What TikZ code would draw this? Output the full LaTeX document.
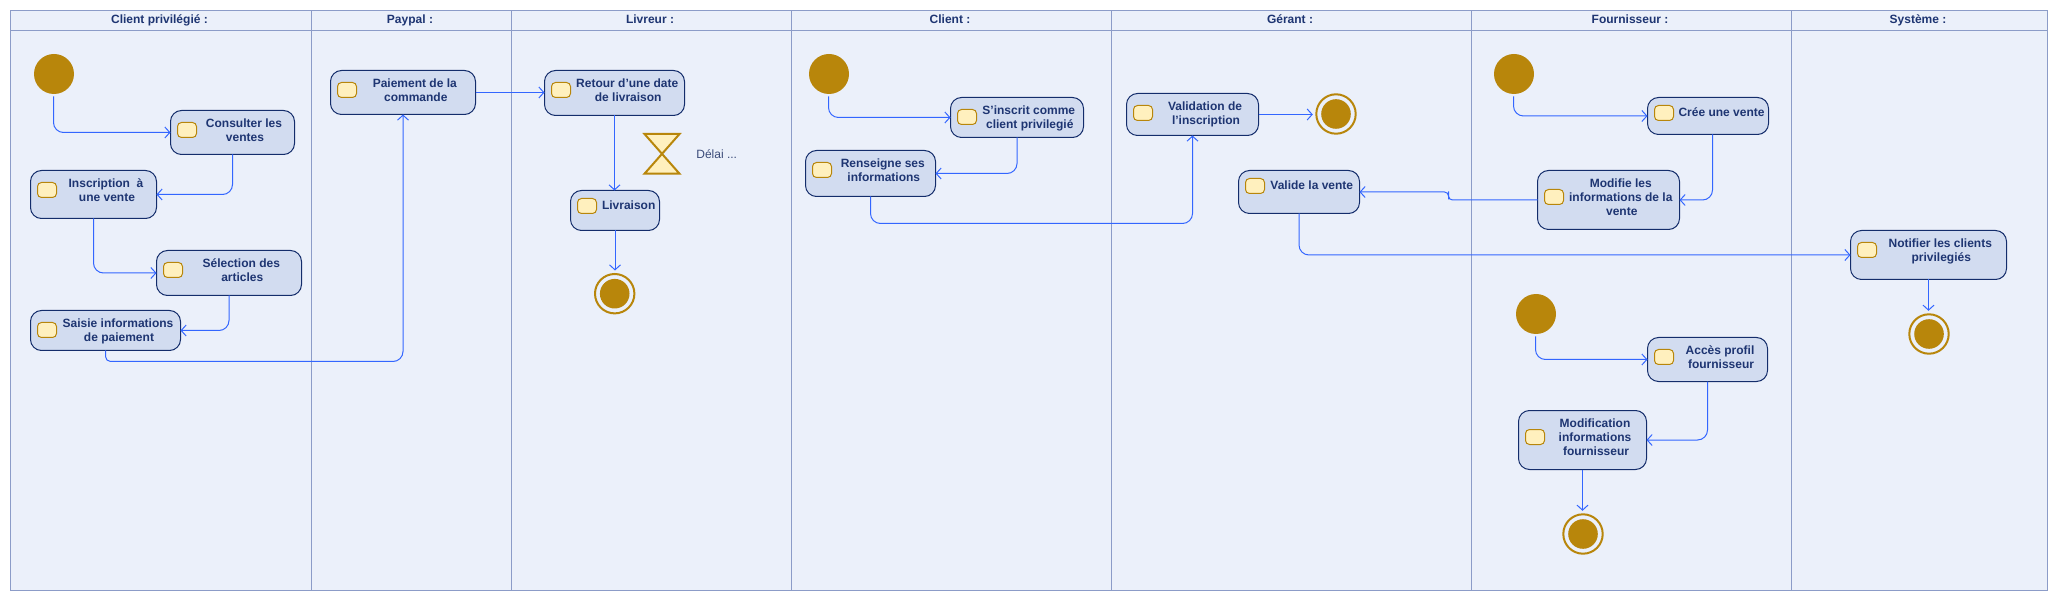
\documentclass[tikz,border=0pt]{standalone}
\usepackage{fontspec}
\setmainfont{Liberation Sans}
\usetikzlibrary{arrows.meta}
\definecolor{lane_fill}{HTML}{EBF0FA}
\definecolor{lane_line}{HTML}{8C9CC8}
\definecolor{act_fill}{HTML}{D2DCF0}
\definecolor{act_line}{HTML}{142D6B}
\definecolor{act_text}{HTML}{1E3572}
\definecolor{delay_text}{HTML}{3A4A78}
\definecolor{flow_blue}{HTML}{3366FF}
\definecolor{state_gold}{HTML}{B8860B}
\definecolor{icon_fill}{HTML}{FFF0BE}
\tikzset{
  every node/.style={outer sep=0pt, inner sep=0pt},
  lanebox/.style={draw=lane_line, fill=lane_fill, line width=1pt},
  lanerule/.style={draw=lane_line, line width=1pt},
  lanetitle/.style={anchor=base, text=act_text, font=\fontsize{12}{14}\selectfont\bfseries},
  actbox/.style={draw=act_line, fill=act_fill, line width=1pt, rounded corners=11pt},
  acttext/.style={anchor=base, text=act_text, align=center, font=\fontsize{12}{14}\selectfont\bfseries},
  acticon/.style={draw=state_gold, fill=icon_fill, line width=1pt, rounded corners=4pt, minimum width=19pt, minimum height=15pt},
  startdot/.style={circle, fill=state_gold, minimum size=40pt},
  endring/.style={circle, draw=state_gold, line width=2pt, minimum size=39.4pt},
  endcore/.style={circle, fill=state_gold, minimum size=29.6pt},
  flow/.style={draw=flow_blue, line width=1pt, rounded corners=10pt, -{Straight Barb[length=5pt,width=11pt]}},
  toend/.style={flow, shorten >=3.5pt}
}
% #1 name, #2-#5 box corners, #6 icon offset, #7,#8 text base, #9 text
\newcommand{\activity}[9]{
  \node[actbox, minimum width={#4-#2}, minimum height={#5-#3}] (#1) at ({(#2+#4)/2},{(#3+#5)/2}) {};
  \node[acticon] (#1-icon) at ({#2+16.5},{#3+#6+7.5}) {};
  \node[acttext] (#1-text) at (#7,#8) {#9};
}
\newcommand{\finalstate}[3]{
  \node[endring] (#1) at (#2,#3) {};
  \node[endcore] (#1-core) at (#1.center) {};
}
\newcommand{\gap}{\kern2pt}
\begin{document}
\begin{tikzpicture}[x=1pt, y=-1pt]
  \useasboundingbox (0,0) rectangle (2058,601);
  % lanes
  \path[lanebox] (10.5,10.5) rectangle (2047.5,590.5);
  \draw[lanerule] (10.5,30.5) -- (2047.5,30.5);
  \foreach \x in {311.5, 511.5, 791.5, 1111.5, 1471.5, 1791.5}
    \draw[lanerule] (\x,10.5) -- (\x,590.5);
  \foreach \x/\lanename/\lanelabel in {159.5/privilege/Client privilégié :, 410/paypal/Paypal :, 650/livreur/Livreur :, 950/client/Client :, 1290/gerant/Gérant :, 1630/fournisseur/Fournisseur :, 1918/systeme/Système :}
    \node[lanetitle] (\lanename) at (\x,24) {\lanelabel};

  % Client privilege
  \node[startdot] (startA) at (54,74) {};
  \activity{consulter}{170.5}{110.5}{294.5}{154.5}{12}{245}{141.5}{Consulter les\gap\\ventes}
  \activity{inscription}{30.5}{170.5}{156.5}{218.5}{12}{107}{201.5}{Inscription\ \ à\gap\\une vente}
  \activity{selection}{156.5}{250.5}{301.5}{295.5}{12}{242.3}{281.5}{Sélection des\gap\\articles}
  \activity{saisie}{30.5}{310.5}{180.5}{350.5}{12}{119}{341.5}{Saisie informations\gap\\de paiement}
  \draw[flow] ([xshift=-.5pt,yshift=-2.5pt]startA.south) |- (consulter.west);
  \draw[flow] (consulter.south) |- (inscription.east);
  \draw[flow] (inscription.south) |- (selection.west);
  \draw[flow] (selection.south) |- (saisie.east);

  % Paypal
  \activity{paiement}{330.5}{70.5}{475.5}{114.5}{12}{415.8}{101.5}{Paiement de la\gap\\commande}
  \draw[flow] (saisie.south) [rounded corners=5pt] -- ++(0,11) [rounded corners=10pt] -| (paiement.south);

  % Livreur
  \activity{retour}{544.5}{70.5}{684.5}{115.5}{12}{628.2}{101.5}{Retour d'une date\gap\\de livraison}
  \activity{livraison}{570.5}{190.5}{659.5}{230.5}{8}{628.7}{210}{Livraison}
  \finalstate{endA}{614.7}{293.7}
  \path[draw=state_gold, fill=icon_fill, line width=2pt] (644.5,134) -- (679.5,134) -- (644.5,173.7) -- (679.5,173.7) -- cycle;
  \node[anchor=base, text=delay_text, font=\fontsize{12}{14}\selectfont] (delai) at (716.7,158.5) {Délai ...};
  \draw[flow] (paiement.east) -- (paiement.east -| retour.west);
  \draw[flow] (retour.south) -- (retour.south |- livraison.north);
  \draw[toend] (livraison.south) -- (livraison.south |- endA.north);

  % Client
  \node[startdot] (startB) at (829,74) {};
  \activity{sinscrit}{950.5}{97.5}{1083.5}{137.5}{12}{1029.8}{128.5}{S'inscrit comme\gap\\client privilegié}
  \activity{renseigne}{805.5}{150.5}{935.5}{196.5}{12}{883.8}{181.5}{Renseigne ses\gap\\informations}
  \draw[flow] ([xshift=-.5pt,yshift=-2.5pt]startB.south) |- (sinscrit.west);
  \draw[flow] (sinscrit.south) |- (renseigne.east);

  % Gerant
  \activity{validation}{1126.5}{93.5}{1258.5}{135.5}{12}{1206}{124.5}{Validation de\gap\\l'inscription}
  \activity{valide}{1238.5}{170.5}{1359.5}{213.5}{8}{1311.8}{190}{Valide la vente}
  \finalstate{endB}{1336}{114}
  \draw[flow] (renseigne.south) -- ++(0,27) -| (validation.south);
  \draw[toend] (validation.east) -- (validation.east -| endB.west);

  % Fournisseur
  \node[startdot] (startC) at (1514,74) {};
  \activity{cree}{1647.5}{97.5}{1768.5}{134.5}{8}{1721.5}{117}{Crée une vente}
  \activity{modifie}{1537.5}{170.5}{1679.5}{229.5}{19}{1621.8}{215.5}{Modifie les\gap\\informations de la\gap\\vente}
  \node[startdot] (startD) at (1536,314) {};
  \activity{acces}{1647.5}{337.5}{1767.5}{381.5}{12}{1721}{368.5}{Accès profil\gap\\fournisseur}
  \activity{modification}{1518.5}{410.5}{1646.5}{469.5}{19}{1596}{455.5}{Modification\gap\\informations\gap\\fournisseur}
  \finalstate{endC}{1583}{534}
  \coordinate (jogA) at (1448.5,195.5);
  \draw[flow] ([xshift=-.5pt,yshift=-2.5pt]startC.south) |- (cree.west);
  \draw[flow] ([xshift=4.5pt]cree.south) |- (modifie.east);
  \draw[flow, rounded corners=4pt] (modifie.west) -| (jogA) |- (valide.east);
  \draw[flow] ([xshift=-.5pt,yshift=-2.5pt]startD.south) |- (acces.west);
  \draw[flow] (acces.south) |- (modification.east);
  \draw[toend] (modification.south) -- (modification.south |- endC.north);

  % Systeme
  \activity{notifier}{1850.5}{230.5}{2006.5}{279.5}{12}{1941.3}{261.5}{Notifier les clients\gap\\privilegiés}
  \finalstate{endD}{1929}{334}
  \draw[flow] (valide.south) |- (notifier.west);
  \draw[toend] (notifier.south) -- (notifier.south |- endD.north);
\end{tikzpicture}
\end{document}
